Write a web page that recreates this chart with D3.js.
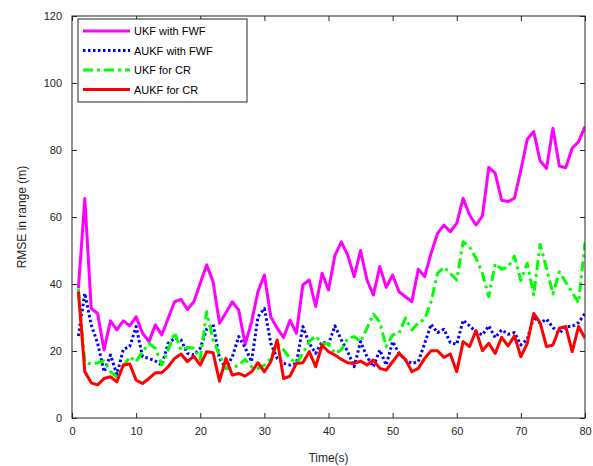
<!DOCTYPE html>
<html>
<head>
<meta charset="utf-8">
<script src="https://cdn.jsdelivr.net/npm/d3@7"></script>
<style>
  body { margin: 0; background: #fff; }
  text { font-family: "Liberation Sans", Arial, sans-serif; }
</style>
</head>
<body>
<svg id="chart" width="593" height="466"></svg>
<script>
// time axis 1..80 s
var time = d3.range(1, 81);

var ukfFwf = [38.7, 65.5, 32.7, 31.2, 20.3, 29, 26.3, 29, 27.5, 30.2,
  25.3, 22.8, 27.8, 24.8, 29.8, 34.7, 35.4, 32.4, 34.7, 40.2,
  45.7, 40.7, 28.3, 31.4, 34.7, 32.2, 22, 28.7, 37.7, 42.7,
  30.2, 26.8, 24, 29.2, 25.3, 39.7, 41.2, 33.3, 43.2, 38.2,
  48.5, 52.6, 48.6, 42.2, 50, 41.2, 36.7, 45.2, 39, 42.7,
  37.7, 36.2, 34.7, 44.4, 42.2, 49.2, 55.1, 57.6, 55.6, 58.1,
  65.6, 60.6, 57.6, 60.3, 74.8, 73, 65, 64.6, 65.6, 74,
  83.2, 85.5, 76.8, 74.5, 86.5, 75.2, 74.7, 80.5, 82.5, 87];

var aukfFwf = [24.5, 37.2, 27.8, 22.3, 13.8, 18.8, 13, 20.5, 21.3, 27.3,
  18.3, 17.8, 17, 15.8, 22.3, 23.8, 23.3, 19.3, 18.8, 20.8,
  26.5, 28, 17.8, 14.8, 18.3, 24.3, 21, 16.8, 30.2, 32.7,
  22.3, 17.8, 16.3, 15.8, 16.3, 27.3, 22.3, 19.3, 22.8, 22,
  27.5, 23.3, 19.8, 15.3, 22.8, 18.3, 15.3, 20.3, 15.8, 22.8,
  19.3, 17.3, 16.3, 16.8, 22.3, 28, 25.5, 26.5, 22.5, 22,
  29.2, 27.5, 25.7, 24.8, 27.5, 24, 26.3, 25, 25.5, 21.8,
  23.5, 30.2, 28.3, 29.5, 27, 25.3, 27.3, 27.3, 28.5, 31.2];

var ukfCr = [38.5, 16.5, 16.1, 16.5, 17, 13.8, 12.3, 15.3, 18.3, 16.8,
  19.8, 22.3, 20.8, 15.8, 20.3, 25.5, 20.3, 21.1, 20.8, 17.5,
  31.7, 23.3, 18.8, 14.8, 14.8, 15.8, 17.5, 15.3, 14.8, 15.8,
  17.8, 22.3, 20.3, 17.8, 16.3, 19.3, 22.8, 24.5, 22.3, 22,
  19.3, 20.3, 23.8, 24.3, 22.8, 26.8, 31, 28.7, 21.3, 24.8,
  25.3, 29.8, 26.3, 28.4, 29.5, 34.7, 43.2, 45, 43.2, 41.2,
  52.6, 51.1, 47.7, 43.2, 36.2, 46.1, 44.4, 45, 48.3, 41,
  46.2, 36.7, 51.8, 44.7, 37, 43.6, 40.5, 37.5, 34.4, 52.4];

var aukfCr = [37.7, 13.8, 10.5, 9.9, 11.8, 12.3, 10.8, 15.8, 16.1, 11.3,
  10.3, 11.8, 13.5, 13.5, 15.3, 17.8, 19.1, 16.8, 18.5, 15.8,
  19.8, 19.5, 11, 17.8, 12.8, 13.3, 12.5, 13.8, 16.5, 13.8,
  16.8, 23.3, 11.8, 12.5, 16.3, 16.5, 19.8, 15.3, 21.8, 19.8,
  18.8, 17.5, 16.5, 16.3, 17, 15.8, 17.3, 14.8, 14.3, 16.8,
  19.3, 17.5, 13.8, 14.8, 17.8, 20.1, 20.1, 18.1, 19.1, 13.8,
  22.8, 21.3, 26.1, 20.1, 22.3, 19.3, 24.1, 21.5, 24.5, 18.3,
  22.3, 31.2, 28.5, 21.3, 21.8, 26.8, 27.3, 19.8, 27.3, 23.8];

var seriesNames = ["UKF with FWF", "AUKF with FWF", "UKF for CR", "AUKF for CR"];
var xTicks = [0, 10, 20, 30, 40, 50, 60, 70, 80];
var yTicks = [0, 20, 40, 60, 80, 100, 120];

var svg = d3.select("#chart");
// plot box (note: "top" is a reserved window global, so use m*)
var mLeft = 72, mRight = 585, mTop = 16, mBottom = 418;
var axisColor = "#262626";

var x = d3.scaleLinear().domain([0, 80]).range([mLeft, mRight]);
var y = d3.scaleLinear().domain([0, 120]).range([mBottom, mTop]);

// series styles (in legend order)
var styles = [
  { color: "#ff00ff", dash: null },
  { color: "#0000ff", dash: "2.5,2.5" },
  { color: "#00ff00", dash: "10,4,3,4" },
  { color: "#ff0000", dash: null }
];
var allSeries = [ukfFwf, aukfFwf, ukfCr, aukfCr];

var line = d3.line()
  .x(function(d, i) { return x(time[i]); })
  .y(function(d) { return y(d); });

// clip so nothing spills past the frame
svg.append("clipPath").attr("id", "clip")
  .append("rect").attr("x", mLeft).attr("y", mTop)
  .attr("width", mRight - mLeft).attr("height", mBottom - mTop);

var plot = svg.append("g").attr("clip-path", "url(#clip)");

allSeries.forEach(function(s, k) {
  plot.append("path")
    .datum(s)
    .attr("fill", "none")
    .attr("stroke", styles[k].color)
    .attr("stroke-width", 3)
    .attr("stroke-linejoin", "round")
    .attr("stroke-dasharray", styles[k].dash)
    .attr("d", line);
});

// axes with inward ticks, mirrored on top/right
var xAxis = d3.axisBottom(x).tickValues(xTicks).tickSizeInner(-5).tickSizeOuter(0).tickPadding(9);
var yAxis = d3.axisLeft(y).tickValues(yTicks).tickSizeInner(-5).tickSizeOuter(0).tickPadding(10);

var gx = svg.append("g").attr("transform", "translate(0," + mBottom + ")").call(xAxis);
var gy = svg.append("g").attr("transform", "translate(" + mLeft + ",0)").call(yAxis);
var gx2 = svg.append("g").attr("transform", "translate(0," + mTop + ")")
  .call(d3.axisTop(x).tickValues(xTicks).tickSizeInner(-5).tickSizeOuter(0).tickFormat(""));
var gy2 = svg.append("g").attr("transform", "translate(" + mRight + ",0)")
  .call(d3.axisRight(y).tickValues(yTicks).tickSizeInner(-5).tickSizeOuter(0).tickFormat(""));

[gx, gy, gx2, gy2].forEach(function(g) {
  g.select(".domain").remove();
  g.selectAll("line").attr("stroke", axisColor);
  g.selectAll("text").attr("fill", axisColor).style("font-size", "11px")
    .style("font-family", "'Liberation Sans', Arial, sans-serif");
});

// frame
svg.append("rect")
  .attr("x", mLeft).attr("y", mTop)
  .attr("width", mRight - mLeft).attr("height", mBottom - mTop)
  .attr("fill", "none").attr("stroke", axisColor).attr("stroke-width", 1);

// axis titles
svg.append("text")
  .attr("x", (mLeft + mRight) / 2).attr("y", 462)
  .attr("text-anchor", "middle")
  .attr("fill", axisColor).style("font-size", "12px")
  .text("Time(s)");

svg.append("text")
  .attr("transform", "translate(26," + ((mTop + mBottom) / 2) + ") rotate(-90)")
  .attr("text-anchor", "middle")
  .attr("fill", axisColor).style("font-size", "12px")
  .text("RMSE in range (m)");

// legend
var legend = svg.append("g");
legend.append("rect")
  .attr("x", 78).attr("y", 19).attr("width", 169).attr("height", 83)
  .attr("fill", "#fff").attr("stroke", axisColor).attr("stroke-width", 1);

seriesNames.forEach(function(name, k) {
  var ly = 31 + k * 19.5;
  legend.append("line")
    .attr("x1", 83).attr("x2", 130).attr("y1", ly).attr("y2", ly)
    .attr("stroke", styles[k].color).attr("stroke-width", 3)
    .attr("stroke-dasharray", styles[k].dash);
  legend.append("text")
    .attr("x", 134).attr("y", ly + 4)
    .attr("fill", "#000").style("font-size", "11px")
    .text(name);
});
</script>
</body>
</html>
